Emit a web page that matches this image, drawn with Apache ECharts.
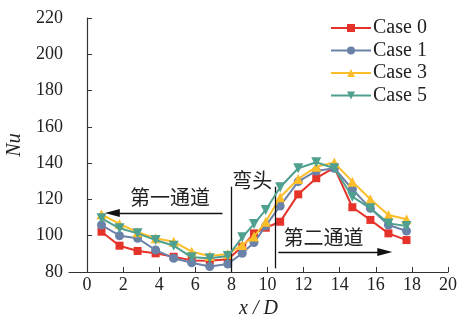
<!DOCTYPE html>
<html><head><meta charset="utf-8">
<script src="https://cdn.jsdelivr.net/npm/echarts@6/dist/echarts.min.js"></script>
<style>html,body{margin:0;padding:0;background:#fff}#c{width:461px;height:320px}</style>
</head><body><div id="c"></div>
<script>
const xPos = [0.8,1.8,2.8,3.8,4.8,5.8,6.8,7.8,8.6,9.25,9.9,10.7,11.7,12.7,13.7,14.7,15.7,16.7,17.7];
const case0 = [102.2,94.5,91.6,90.3,88.4,86.4,86.2,87.0,93.9,101.3,104.4,107.7,122.8,131.7,137.5,115.7,108.7,101.3,97.6];
const case1 = [105.9,100.0,98.6,92.1,87.6,85.1,83.0,84.4,90.3,96.2,105.4,116.4,129.8,135.7,137.2,125.6,115.1,105.9,102.6];
const case3 = [111.8,106.5,101.9,98.6,96.7,91.2,88.8,89.9,94.9,99.5,107.7,121.2,131.3,138.0,140.3,129.8,120.1,111.4,109.1];
const case5 = [109.6,104.1,101.3,97.6,94.5,88.1,87.6,88.8,99.1,106.5,114.2,126.7,137.2,140.5,137.2,121.5,115.1,106.8,105.4];
const seriesNames = ['Case 0','Case 1','Case 3','Case 5'];
const xTicks = [0,2,4,6,8,10,12,14,16,18,20];
const yMin = 80, yMax = 220, yStep = 20;
const xMin = -1, xMax = 20;

const serif = '"Liberation Serif","DejaVu Serif",serif';
const cjk = '"Noto Sans CJK SC",sans-serif';
const colors = ['#e5332a','#6a82a8','#fcbd2a','#4fa08f'];
const symbols = ['rect','circle','triangle','triangle'];
const rot = [0,0,0,180];
const sizes = [8,9,10,10];
const allData = [case0,case1,case3,case5];

const series = allData.map((d,i)=>({
  name: seriesNames[i], type:'line',
  data: d.map((v,j)=>[xPos[j], v]),
  color: colors[i],
  symbol: symbols[i], symbolSize: sizes[i], symbolRotate: rot[i],
  showAllSymbol: true,
  lineStyle:{width:2, color:colors[i]},
  itemStyle:{color:colors[i]},
  z: 2+i
}));

const annoLine = {color:'#111', width:1.3, type:'solid'};
series.push({
  type:'line', name:'anno', data:[], silent:true, z:10,
  markLine:{
    silent:true, animation:false, symbol:['none','none'],
    label:{show:false}, lineStyle:annoLine,
    data:[
      [{coord:[8,80]},{coord:[8,127]}],
      [{coord:[10.45,82]},{coord:[10.45,127]}],
      [{coord:[7.5,112.5],symbol:'none'},{coord:[1.4,112.5],symbol:'triangle',symbolSize:[8,15],symbolRotate:90}],
      [{coord:[10.6,91],symbol:'none'},{coord:[16.5,91],symbol:'triangle',symbolSize:[8,15],symbolRotate:-90}]
    ]
  },
  markPoint:{
    silent:true, animation:false, symbol:'circle', symbolSize:0,
    label:{show:true, position:'inside', fontFamily:cjk, fontSize:20, color:'#222'},
    data:[
      {coord:[4.6,121.3], value:'第一通道', label:{formatter:'第一通道'}},
      {coord:[9.15,130.5], value:'弯头', label:{formatter:'弯头'}},
      {coord:[13.1,99.3], value:'第二通道', label:{formatter:'第二通道'}}
    ]
  }
});

const chart = echarts.init(document.getElementById('c'), null, {renderer:'canvas'});
chart.setOption({
  animation:false,
  backgroundColor:'#fff',
  grid:{left:69, right:13, top:18, bottom:48, containLabel:false, outerBoundsMode:'none'},
  legend:{
    data:seriesNames, orient:'vertical', left:330, top:18, padding:0,
    itemWidth:40, itemHeight:10, itemGap:2.5,
    textStyle:{fontFamily:serif, fontSize:20, color:'#222', padding:[0,0,0,-3]}
  },
  xAxis:{
    type:'value', min:xMin, max:xMax,
    name:'x / D', nameLocation:'middle', nameGap:13,
    nameTextStyle:{fontFamily:serif, fontSize:20, fontStyle:'italic', color:'#222'},
    axisLine:{lineStyle:{color:'#333', width:1.2}},
    axisTick:{inside:true, length:5, customValues:xTicks, lineStyle:{color:'#333'}},
    axisLabel:{customValues:xTicks, fontFamily:serif, fontSize:18, color:'#222', margin:4},
    splitLine:{show:false}
  },
  yAxis:{
    type:'value', min:yMin, max:yMax, interval:yStep,
    name:'Nu', nameLocation:'middle', nameGap:35, nameRotate:90,
    nameTextStyle:{fontFamily:serif, fontSize:20, fontStyle:'italic', color:'#222'},
    axisLine:{show:true, lineStyle:{color:'#333', width:1.2}},
    axisTick:{show:true, inside:true, length:5, lineStyle:{color:'#333'}},
    axisLabel:{fontFamily:serif, fontSize:18, color:'#222', margin:6},
    splitLine:{show:false}
  },
  series: series
});
</script></body></html>
